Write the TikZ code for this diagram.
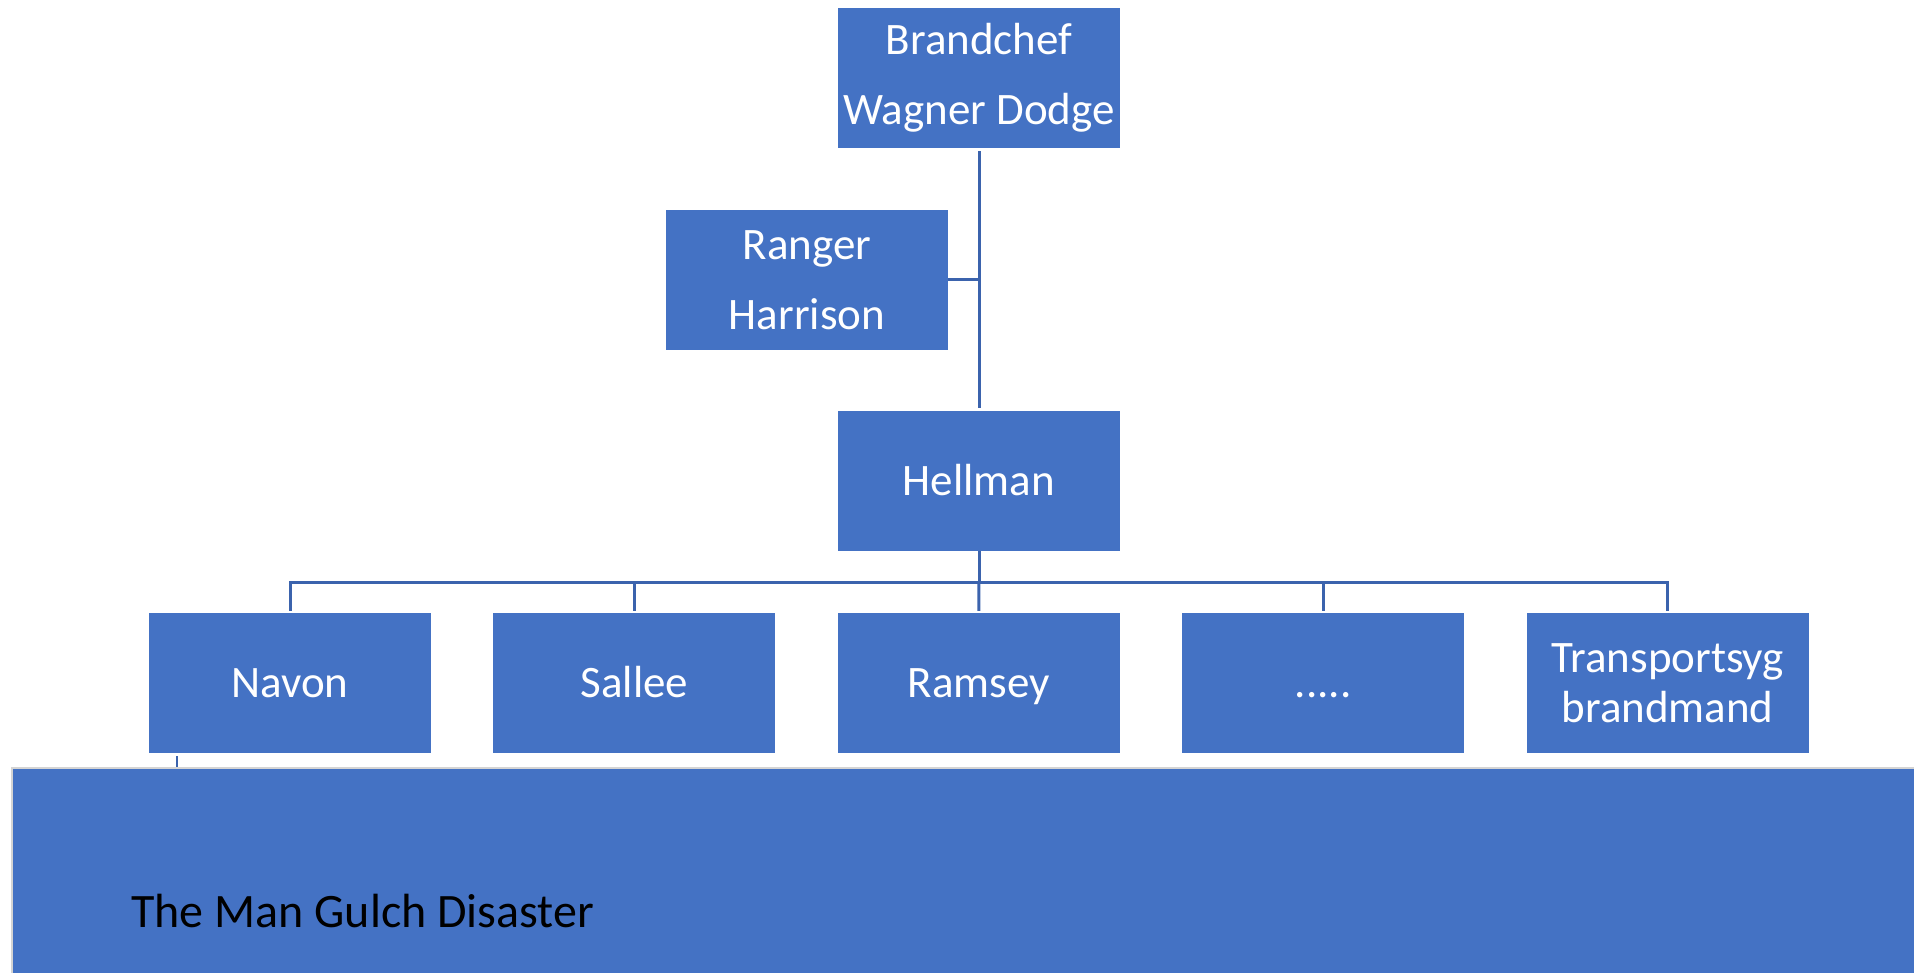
\documentclass[tikz,border=0pt]{standalone}
\usepackage{fontspec}
\setmainfont{Carlito}
\usetikzlibrary{positioning}
\definecolor{orgblue}{HTML}{4472C4}
\definecolor{orgline}{HTML}{3B63AD}
\definecolor{orgedge}{HTML}{D4D4D4}
\tikzset{
	person/.style={rectangle, fill=orgblue, text=white, minimum width=282pt, minimum height=140pt, inner sep=0pt, align=center, font=\fontsize{45}{70}\selectfont},
	oneline/.style={text height=32pt, text depth=4pt},
	conn/.style={draw=orgline, line width=3pt}
}

\begin{document}
\begin{tikzpicture}[x=1pt, y=-1pt]
		\useasboundingbox (0,0) rectangle (1914,973);
		% banner at the bottom
		\fill[orgblue, draw=orgedge, line width=2pt] (12,768) rectangle (1916,976);
		\node[anchor=base west, inner sep=0pt, font=\fontsize{48}{56}\selectfont] (title) at (131,927) {The Man Gulch Disaster};
		\coordinate (banner) at (177,767);
		\coordinate (stub) at (177,756);
		\draw[draw=orgline, line width=2pt] (stub) -- (banner);
		% chart
		\node[person] (chef) at (979,78) {Brandchef\\Wagner Dodge};
		\node[person] (ranger) at (807,280) {Ranger\\Harrison};
		\node[person, oneline] (hellman) at (979,481) {Hellman};
		\node[person, oneline] (navon) at (290,683) {Navon};
		\node[person, oneline, right=62pt of navon] (sallee) {Sallee};
		\node[person, oneline, right=62pt of sallee] (ramsey) {Ramsey};
		\node[person, oneline, right=62pt of ramsey] (dots) {.....};
		\node[person, right=62pt of dots, font=\fontsize{45}{50}\selectfont] (transport) {Transportsyg\\brandmand};
		\draw[conn] ([yshift=-3pt]chef.south) -- ([yshift=3pt]hellman.north);
		\draw[conn] (ranger.east) -- (ranger.east -| chef.south);
		\draw[conn] (hellman.south) -- ++(0,31) coordinate (bus);
		\draw[conn] ([yshift=2pt]navon.north) |- (bus) -| ([yshift=2pt]transport.north);
		\draw[conn] ([yshift=2pt]sallee.north) -- (sallee.north |- bus);
		\draw[conn] ([yshift=2pt]ramsey.north) -- (bus);
		\draw[conn] ([yshift=2pt]dots.north) -- (dots.north |- bus);
	\end{tikzpicture}
\end{document}
